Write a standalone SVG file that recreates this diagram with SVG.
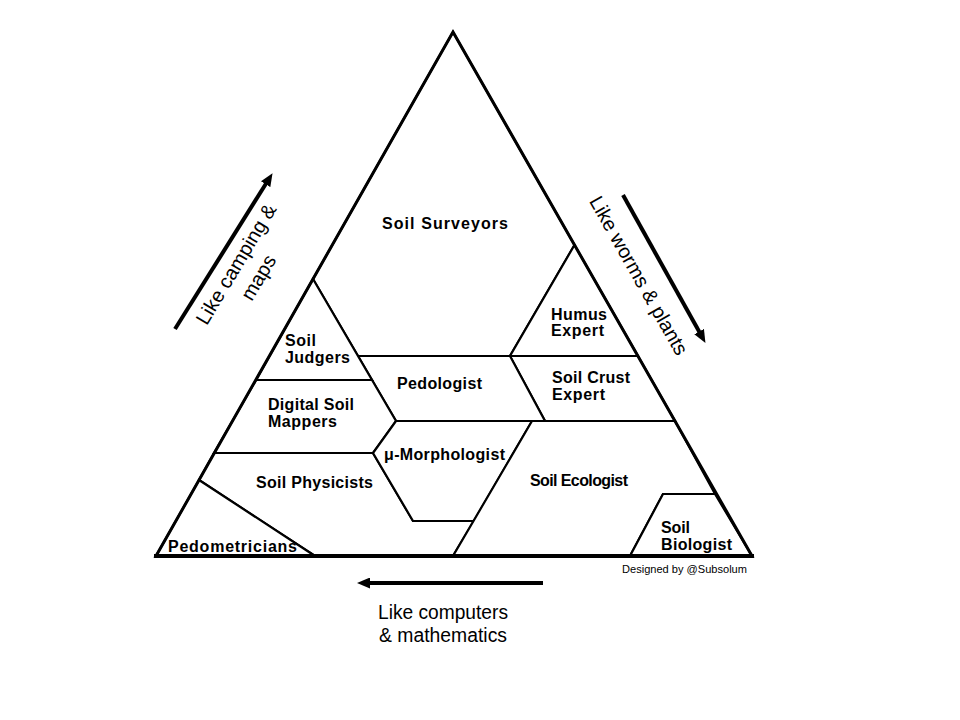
<svg xmlns="http://www.w3.org/2000/svg" width="960" height="720" viewBox="0 0 960 720">
<style>
.reg{fill:#fff;stroke:#000;stroke-width:2.2;stroke-linejoin:miter}
.lbl{font-family:"Liberation Sans",Arial,sans-serif;font-weight:bold;font-size:16px;fill:#000}
.side{font-family:"Liberation Sans",Arial,sans-serif;font-size:20px;fill:#000}
.arr{stroke:#000;stroke-width:4;fill:none}
</style>
<defs>
<marker id="ah" markerUnits="userSpaceOnUse" markerWidth="14" markerHeight="11" refX="2" refY="5.5" orient="auto">
<path d="M0,0 L13,5.5 L0,11 z" fill="#000"/>
</marker>
</defs>
<rect width="960" height="720" fill="#fff"/>
<g id="soil-surveyors">
<polygon class="reg" points="453,32 574.5,245 510,356 358,356 313,279"/>
<text class="lbl" x="382" y="229" font-size="16.5" textLength="126" lengthAdjust="spacing">Soil Surveyors</text>
</g>
<g id="humus-expert">
<polygon class="reg" points="574.5,245 638,356 510,356"/>
<text class="lbl" x="551" y="320" textLength="56" lengthAdjust="spacing">Humus</text>
<text class="lbl" x="551" y="336" textLength="53" lengthAdjust="spacing">Expert</text>
</g>
<g id="soil-crust-expert">
<polygon class="reg" points="510,356 638,356 675,421 545,421"/>
<text class="lbl" x="552" y="383" textLength="78" lengthAdjust="spacing">Soil Crust</text>
<text class="lbl" x="552" y="400" textLength="53" lengthAdjust="spacing">Expert</text>
</g>
<g id="pedologist">
<polygon class="reg" points="358,356 510,356 545,421 396,421"/>
<text class="lbl" x="397" y="389" textLength="85" lengthAdjust="spacing">Pedologist</text>
</g>
<g id="soil-judgers">
<polygon class="reg" points="313,279 372,380 256,380"/>
<text class="lbl" x="285" y="346" textLength="31" lengthAdjust="spacing">Soil</text>
<text class="lbl" x="285" y="363" textLength="65" lengthAdjust="spacing">Judgers</text>
</g>
<g id="digital-soil-mappers">
<polygon class="reg" points="256,380 372,380 396,421 373,453 214,453"/>
<text class="lbl" x="268" y="410" textLength="86" lengthAdjust="spacing">Digital Soil</text>
<text class="lbl" x="268" y="427" textLength="69" lengthAdjust="spacing">Mappers</text>
</g>
<g id="soil-physicists">
<polygon class="reg" points="214,453 373,453 413,521 474,521 453,556 315,556 199,480"/>
<text class="lbl" x="256" y="488" textLength="117" lengthAdjust="spacing">Soil Physicists</text>
</g>
<g id="pedometricians">
<polygon class="reg" points="199,480 315,556 156,556"/>
<text class="lbl" x="168" y="552" textLength="129" lengthAdjust="spacing">Pedometricians</text>
</g>
<g id="micro-morphologist">
<polygon class="reg" points="396,421 532,421 474,521 413,521 373,453"/>
<text class="lbl" x="384" y="460" textLength="121" lengthAdjust="spacing">μ-Morphologist</text>
</g>
<g id="soil-ecologist">
<polygon class="reg" points="532,421 675,421 715,494 663,494 630,556 453,556"/>
<text class="lbl" x="530" y="486" font-size="14" textLength="98" lengthAdjust="spacing">Soil Ecologist</text>
</g>
<g id="soil-biologist">
<polygon class="reg" points="663,494 715,494 752,556 630,556"/>
<text class="lbl" x="661" y="533" textLength="29" lengthAdjust="spacing">Soil</text>
<text class="lbl" x="661" y="550" textLength="71" lengthAdjust="spacing">Biologist</text>
</g>
<g id="outline">
<polygon points="453,32 752,556 156,556" fill="none" stroke="#000" stroke-width="3"/>
<line x1="154" y1="556" x2="754" y2="556" stroke="#000" stroke-width="4"/>
</g>
<text x="622" y="573" font-family="'Liberation Sans',Arial,sans-serif" font-size="11" textLength="125" lengthAdjust="spacingAndGlyphs">Designed by @Subsolum</text>
<g id="connectors">
<line class="arr" x1="175" y1="329" x2="266.7" y2="182.5" marker-end="url(#ah)"/>
<line class="arr" x1="623" y1="195" x2="700.1" y2="333.3" marker-end="url(#ah)"/>
<line class="arr" x1="543" y1="583" x2="368" y2="583" marker-end="url(#ah)"/>
</g>
<g id="label-camping" transform="translate(236,264) rotate(-59)">
<text class="side" x="0" y="7" text-anchor="middle">Like camping &amp;</text>
<text class="side" x="0" y="33" text-anchor="middle">maps</text>
</g>
<g id="label-worms" transform="translate(638,276) rotate(60.5)">
<text class="side" x="0" y="6" text-anchor="middle">Like worms &amp; plants</text>
</g>
<g id="label-computers">
<text class="side" x="443" y="619" text-anchor="middle" textLength="130" lengthAdjust="spacingAndGlyphs">Like computers</text>
<text class="side" x="443" y="642" text-anchor="middle" textLength="128" lengthAdjust="spacingAndGlyphs">&amp; mathematics</text>
</g>
</svg>
